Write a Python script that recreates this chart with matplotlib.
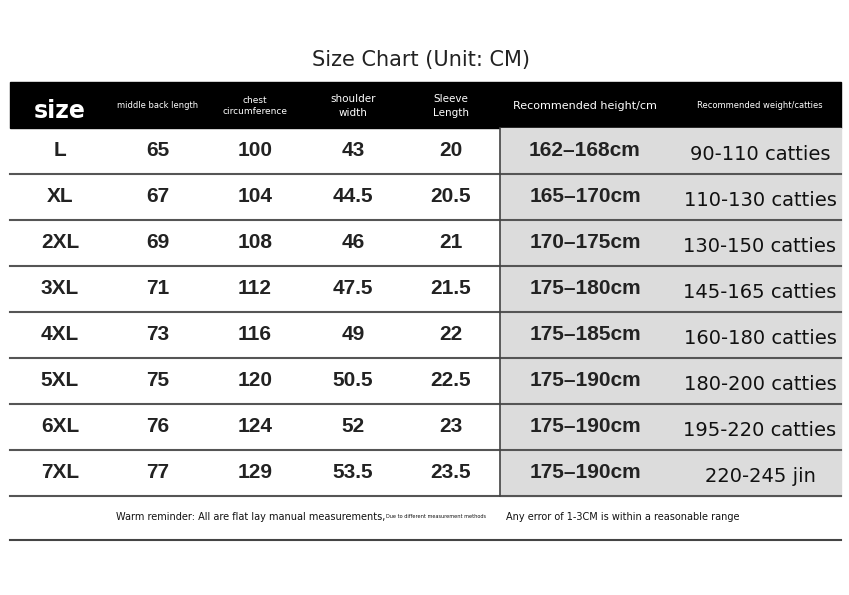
import matplotlib
matplotlib.use("Agg")
import matplotlib.pyplot as plt
from matplotlib.patches import Rectangle

title = "Size Chart (Unit: CM)"
headers = ["size", "middle back length", "chest\ncircumference", "shoulder\nwidth", "Sleeve\nLength",
           "Recommended height/cm", "Recommended weight/catties"]
sizes = ["L", "XL", "2XL", "3XL", "4XL", "5XL", "6XL", "7XL"]
back = ["65", "67", "69", "71", "73", "75", "76", "77"]
chest = ["100", "104", "108", "112", "116", "120", "124", "129"]
shoulder = ["43", "44.5", "46", "47.5", "49", "50.5", "52", "53.5"]
sleeve = ["20", "20.5", "21", "21.5", "22", "22.5", "23", "23.5"]
height = ["162–168cm", "165–170cm", "170–175cm", "175–180cm", "175–185cm", "175–190cm", "175–190cm", "175–190cm"]
weight = ["90-110 catties", "110-130 catties", "130-150 catties", "145-165 catties",
          "160-180 catties", "180-200 catties", "195-220 catties", "220-245 jin"]
note = "Warm reminder: All are flat lay manual measurements,"
note_small = "Due to different measurement methods"
note2 = "Any error of 1-3CM is within a reasonable range"

NARROW = ["Liberation Sans Narrow", "DejaVu Sans"]
BOLD = ["Liberation Sans", "DejaVu Sans"]

fig = plt.figure(figsize=(8.49, 5.95), dpi=100)
ax = fig.add_axes([0, 0, 1, 1])
ax.set_xlim(0, 849); ax.set_ylim(595, 0); ax.axis("off")

ax.text(421, 60, title, ha="center", va="center", fontsize=15, family=NARROW, color="#222")
L, R = 10, 841
top, hb = 82, 128
rh = 46
ax.add_patch(Rectangle((L, top), R - L, hb - top, color="black"))
ax.add_patch(Rectangle((500, hb), R - 500, rh * len(sizes), color="#dcdcdc"))
cx = [60, 158, 255, 353, 451, 585, 760]
hsz = [17, 6, 6.5, 7.5, 7.5, 8, 6]
for x, h, s in zip(cx, headers, hsz):
    ax.text(x, 106 if h != "size" else 111, h, ha="center", va="center", color="white",
            fontsize=s, family=NARROW, fontweight="bold" if h == "size" else "normal", linespacing=1.4)
cols = [sizes, back, chest, shoulder, sleeve, height, weight]
for i in range(len(sizes)):
    yc = hb + rh * i + rh / 2
    for j, col in enumerate(cols):
        if j == 6:
            ax.text(cx[j], yc + 3, col[i], ha="center", va="center", fontsize=14, family=NARROW, color="#111")
        else:
            ax.text(cx[j], yc, col[i], ha="center", va="center", fontsize=15, family=BOLD,
                    fontweight="bold", color="#222")
    ax.plot([L, R], [hb + rh * (i + 1)] * 2, color="#555", lw=1.5)
ax.plot([500, 500], [hb, hb + rh * len(sizes)], color="#444", lw=1.2)
ax.text(385, 517, note, ha="right", va="center", fontsize=7, family=NARROW, color="#111")
ax.text(386, 517, note_small, ha="left", va="center", fontsize=3.6, family=NARROW, color="#111")
ax.text(506, 517, note2, ha="left", va="center", fontsize=7, family=NARROW, color="#111")
ax.plot([L, R], [540, 540], color="#444", lw=1.5)
fig.savefig("out.png", dpi=100)
